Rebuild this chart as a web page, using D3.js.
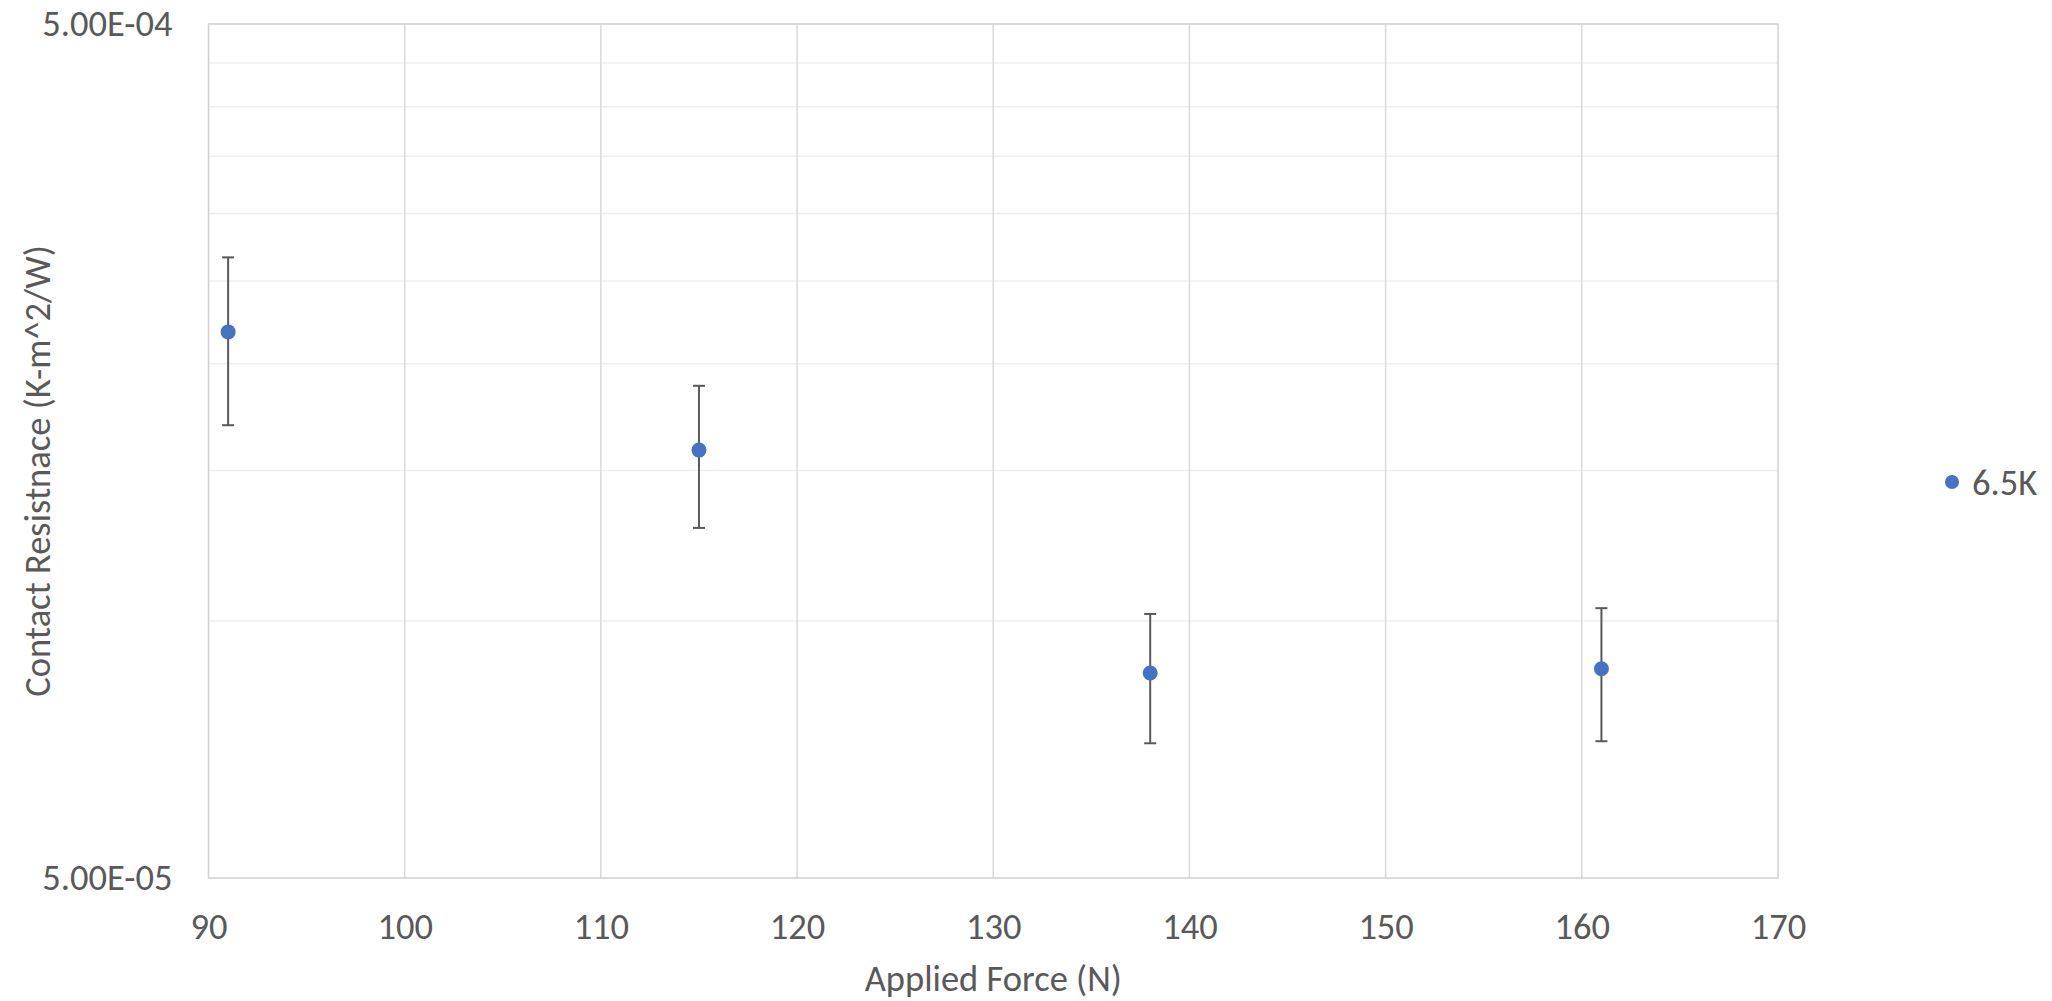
<!DOCTYPE html>
<html>
<head>
<meta charset="utf-8">
<script src="https://cdn.jsdelivr.net/npm/d3@7"></script>
<style>
  html, body { margin: 0; padding: 0; background: #ffffff; }
  svg { display: block; }
  text { font-family: Carlito, Calibri, "Liberation Sans", Arial, sans-serif; fill: #595959; }
</style>
</head>
<body>
<svg id="chart" width="2052" height="1001"></svg>
<script>
// ---- data ----
const seriesName = "6.5K";
const forces = [91, 115, 138, 161];
const resistance = [2.18e-4, 1.585e-4, 8.69e-5, 8.79e-5];
const errors = [4.85e-5, 3.0e-5, 1.5e-5, 1.56e-5];
const xTicks = [90, 100, 110, 120, 130, 140, 150, 160, 170];
const yLabelTicks = [5e-5, 5e-4];
const yMinorGrid = [1e-4, 1.5e-4, 2e-4, 2.5e-4, 3e-4, 3.5e-4, 4e-4, 4.5e-4];
const xTitle = "Applied Force (N)";
const yTitle = "Contact Resistnace (K-m^2/W)";

// ---- layout ----
const plotL = 208.5, plotR = 1778, plotT = 24, plotB = 878;
const svg = d3.select("#chart");
const FONT = 'Carlito, Calibri, "Liberation Sans", Arial, sans-serif';
const FS = "36.5px";

const x = d3.scaleLinear().domain([90, 170]).range([plotL, plotR]);
const y = d3.scaleLog().domain([5e-5, 5e-4]).range([plotB, plotT]);

function fmtExp(v) {
  const [m, e] = v.toExponential(2).toUpperCase().split("E");
  const sign = e[0] === "-" ? "-" : "+";
  const digits = e.replace(/[-+]/, "").padStart(2, "0");
  return m + "E" + sign + digits;
}

// minor horizontal gridlines
svg.append("g").selectAll("line").data(yMinorGrid).join("line")
  .attr("x1", plotL).attr("x2", plotR)
  .attr("y1", d => y(d)).attr("y2", d => y(d))
  .attr("stroke", "#efefef").attr("stroke-width", 1.5);

// vertical gridlines
svg.append("g").selectAll("line").data(xTicks.slice(1, -1)).join("line")
  .attr("x1", d => x(d)).attr("x2", d => x(d))
  .attr("y1", plotT).attr("y2", plotB)
  .attr("stroke", "#d9d9d9").attr("stroke-width", 1.5);

// plot border
svg.append("rect")
  .attr("x", plotL).attr("y", plotT)
  .attr("width", plotR - plotL).attr("height", plotB - plotT)
  .attr("fill", "none").attr("stroke", "#d0d0d0").attr("stroke-width", 1.5);

// x axis
const xAxis = svg.append("g")
  .attr("transform", `translate(0,${plotB})`)
  .call(d3.axisBottom(x).tickValues(xTicks).tickSize(0).tickPadding(35).tickFormat(d3.format("d")));
xAxis.select(".domain").remove();
xAxis.selectAll("text").style("font-size", FS).attr("fill", "#595959").style("font-family", FONT);

// y axis
const yAxis = svg.append("g")
  .attr("transform", `translate(${plotL},0)`)
  .call(d3.axisLeft(y).tickValues(yLabelTicks).tickSize(0).tickPadding(36).tickFormat(fmtExp));
yAxis.select(".domain").remove();
yAxis.selectAll("text").style("font-size", FS).attr("fill", "#595959").style("font-family", FONT);

// axis titles
svg.append("text")
  .attr("x", (plotL + plotR) / 2).attr("y", 991)
  .attr("text-anchor", "middle").style("font-size", FS)
  .text(xTitle);
svg.append("text")
  .attr("transform", "translate(50,471) rotate(-90)")
  .attr("text-anchor", "middle").style("font-size", FS)
  .text(yTitle);

// data
const pts = forces.map((f, i) => ({ f, v: resistance[i], e: errors[i] }));
const eb = svg.append("g").attr("stroke", "#595959").attr("stroke-width", 2);
eb.selectAll("line.v").data(pts).join("line").attr("class", "v")
  .attr("x1", d => x(d.f)).attr("x2", d => x(d.f))
  .attr("y1", d => y(d.v + d.e)).attr("y2", d => y(d.v - d.e));
eb.selectAll("line.t").data(pts).join("line").attr("class", "t")
  .attr("x1", d => x(d.f) - 6).attr("x2", d => x(d.f) + 6)
  .attr("y1", d => y(d.v + d.e)).attr("y2", d => y(d.v + d.e));
eb.selectAll("line.b").data(pts).join("line").attr("class", "b")
  .attr("x1", d => x(d.f) - 6).attr("x2", d => x(d.f) + 6)
  .attr("y1", d => y(d.v - d.e)).attr("y2", d => y(d.v - d.e));

svg.append("g").selectAll("circle").data(pts).join("circle")
  .attr("cx", d => x(d.f)).attr("cy", d => y(d.v)).attr("r", 7.5)
  .attr("fill", "#4472C4");

// legend
const lg = svg.append("g").attr("transform", "translate(1952,482)");
lg.append("circle").attr("r", 7).attr("fill", "#4472C4");
lg.append("text").attr("x", 20).attr("y", 0).attr("dy", "0.35em")
  .style("font-size", FS).text(seriesName);
</script>
</body>
</html>
